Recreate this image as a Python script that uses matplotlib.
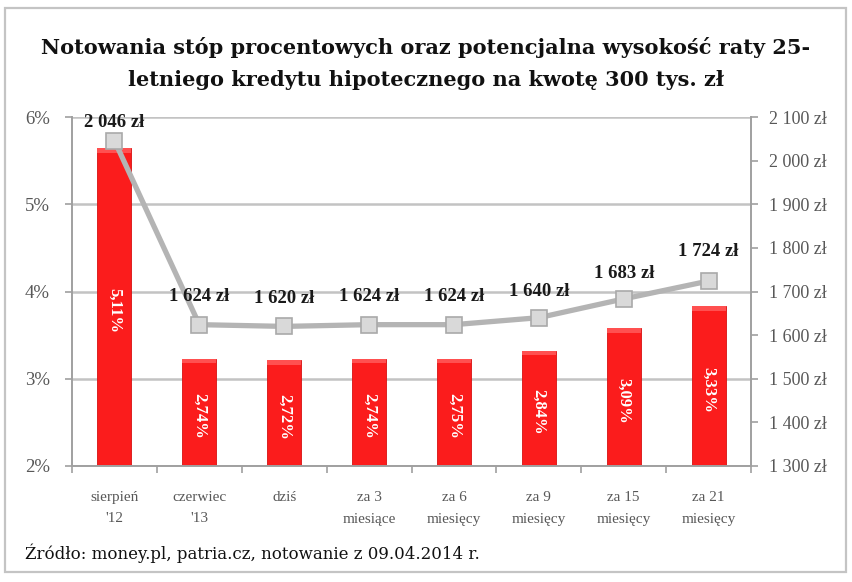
import matplotlib
matplotlib.use("Agg")
import matplotlib.pyplot as plt
from matplotlib.patches import Rectangle
import numpy as np

# ---- data ----
categories = ["sierpień\n'12", "czerwiec\n'13", "dziś", "za 3\nmiesiące",
              "za 6\nmiesięcy", "za 9\nmiesięcy", "za 15\nmiesięcy", "za 21\nmiesięcy"]
bar_heights = [5.64, 3.23, 3.21, 3.23, 3.23, 3.32, 3.58, 3.83]   # as drawn on left axis (%)
bar_labels = ["5,11%", "2,74%", "2,72%", "2,74%", "2,75%", "2,84%", "3,09%", "3,33%"]
installments = [2046, 1624, 1620, 1624, 1624, 1640, 1683, 1724]   # zł
inst_labels = ["2 046 zł", "1 624 zł", "1 620 zł", "1 624 zł", "1 624 zł",
               "1 640 zł", "1 683 zł", "1 724 zł"]
left_ticks = [2, 3, 4, 5, 6]
left_ticklabels = ["2%", "3%", "4%", "5%", "6%"]
right_ticks = [1300, 1400, 1500, 1600, 1700, 1800, 1900, 2000, 2100]
right_ticklabels = ["1 300 zł", "1 400 zł", "1 500 zł", "1 600 zł", "1 700 zł",
                    "1 800 zł", "1 900 zł", "2 000 zł", "2 100 zł"]
title = "Notowania stóp procentowych oraz potencjalna wysokość raty 25-\nletniego kredytu hipotecznego na kwotę 300 tys. zł"
source = "Źródło: money.pl, patria.cz, notowanie z 09.04.2014 r."

SERIF = ["Liberation Serif", "DejaVu Serif"]
WIDE = ["DejaVu Serif", "Liberation Serif"]
plt.rcParams['font.family'] = SERIF

W, H = 852, 582
fig = plt.figure(figsize=(W / 100, H / 100), dpi=100)
fig.patch.set_facecolor("white")

# outer frame
fig.add_artist(Rectangle((5 / W, 1 - 572 / H), 841 / W, 564 / H, transform=fig.transFigure,
                         fill=False, edgecolor="#c4c4c4", linewidth=1.6))

ax = fig.add_axes([72 / W, 1 - 466 / H, (751 - 72) / W, (466 - 117) / H])
x = np.arange(len(categories))
ax.set_xlim(-0.5, len(categories) - 0.5)
ax.set_ylim(2, 6)

grid_c = "#c3c3c3"
for t in left_ticks:
    ax.axhline(t, color=grid_c, lw=1.8, zorder=0)

bars = ax.bar(x, np.array(bar_heights) - 2, bottom=2, width=0.40, color="#fb1c1c",
              edgecolor="#d81010", linewidth=0.6, zorder=2)
# subtle highlight at top of bars
for xi, h in zip(x, bar_heights):
    ax.add_patch(Rectangle((xi - 0.2, h - 0.05), 0.40, 0.05, facecolor="#ff5050",
                           edgecolor="none", zorder=2.5))
for xi, h, lab in zip(x, bar_heights, bar_labels):
    ax.text(xi, (2 + h) / 2 - 0.04, lab, rotation=-90, ha="center", va="center",
            color="white", fontsize=12, fontweight="bold", zorder=3)

ax.set_yticks(left_ticks)
ax.set_yticklabels(left_ticklabels, fontsize=13.5, color="#585858")
ax.set_xticks(x)
ax.set_xticklabels(categories, fontsize=11, color="#585858", linespacing=1.85)
ax.set_xticks(np.arange(-0.5, len(categories), 1), minor=True)
ax.tick_params(axis="x", which="major", length=0, pad=18)
ax.tick_params(axis="x", which="minor", length=5, color="#a0a0a0", width=1.2, direction="out")
ax.tick_params(axis="y", length=5, color="#a0a0a0", width=1.2, pad=11)
for s in ["top", "right"]:
    ax.spines[s].set_visible(False)
for s in ["left", "bottom"]:
    ax.spines[s].set_color("#a0a0a0")
    ax.spines[s].set_linewidth(1.4)

ax2 = ax.twinx()
ax2.set_ylim(1300, 2100)
ax2.set_yticks(right_ticks)
ax2.set_yticklabels(right_ticklabels, fontsize=13, color="#585858")
ax2.tick_params(axis="y", length=5, color="#a0a0a0", width=1.2, pad=8)
for s in ["top", "left", "bottom"]:
    ax2.spines[s].set_visible(False)
ax2.spines["right"].set_color("#a0a0a0")
ax2.spines["right"].set_linewidth(1.4)

ax2.plot(x, installments, color="#b4b4b4", lw=3.8, zorder=4, solid_capstyle="round")
ax2.plot(x, installments, linestyle="none", marker="s", markersize=12,
         markerfacecolor="#d9d9d9", markeredgecolor="#a9a9a9", markeredgewidth=1.2, zorder=5)
offsets = [13, 20, 20, 20, 20, 19, 18, 21]
for xi, v, lab, off in zip(x, installments, inst_labels, offsets):
    ax2.annotate(lab, (xi, v), xytext=(0, off), textcoords="offset points",
                 ha="center", va="center", fontsize=13.5, fontweight="bold",
                 color="#1a1a1a", zorder=6)

fig.text(426 / W, 1 - 63 / H, title, ha="center", va="center", fontsize=15,
         fontweight="bold", color="#111111", linespacing=1.75, family=WIDE)
fig.text(25 / W, 1 - 553 / H, source, ha="left", va="center", fontsize=12,
         color="#111111", family=WIDE)

fig.savefig("out.png", dpi=100)
